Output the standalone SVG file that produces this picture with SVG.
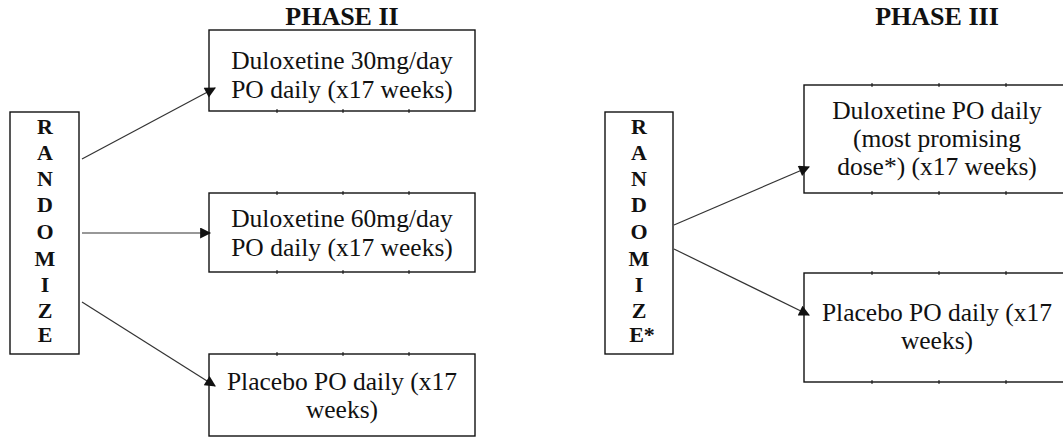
<svg xmlns="http://www.w3.org/2000/svg" width="1063" height="438" viewBox="0 0 1063 438">
<style>
.box{fill:#fff;stroke:#111;stroke-width:1.4}
.tick{stroke:#111;stroke-width:1}
.t{font-family:"Liberation Serif","Times New Roman",serif;font-size:25.5px;fill:#111;text-anchor:middle}
.h{font-family:"Liberation Serif","Times New Roman",serif;font-size:26px;font-weight:bold;fill:#111;text-anchor:middle}
.l{font-family:"Liberation Serif","Times New Roman",serif;font-size:22px;font-weight:bold;fill:#111;text-anchor:middle}
.c{stroke:#333;stroke-width:1.2;fill:none;marker-end:url(#ah)}
</style>
<defs>
<marker id="ah" viewBox="0 0 10 10" refX="9" refY="5" markerWidth="13" markerHeight="11" markerUnits="userSpaceOnUse" orient="auto">
<path d="M0,0 L10,5 L0,10 Z" fill="#111"/>
</marker>
</defs>
<text class="h" x="342" y="25">PHASE II</text>
<text class="h" x="937" y="25">PHASE III</text>
<g id="randomize1">
<rect class="box" x="10" y="112" width="69" height="242"/>
<text class="l" x="45" y="134">R</text>
<text class="l" x="45" y="160">A</text>
<text class="l" x="45" y="186">N</text>
<text class="l" x="45" y="212">D</text>
<text class="l" x="45" y="239">O</text>
<text class="l" x="45" y="266">M</text>
<text class="l" x="45" y="292">I</text>
<text class="l" x="45" y="318">Z</text>
<text class="l" x="45" y="342">E</text>
</g>
<g id="dul30">
<rect class="box" x="209" y="30" width="266" height="81"/>
<path class="tick" d="M277,109v4M343,109v4M409,109v4"/>
<text class="t" x="342" y="69">Duloxetine 30mg/day</text>
<text class="t" x="342" y="98">PO daily (x17 weeks)</text>
</g>
<g id="dul60">
<rect class="box" x="209" y="193" width="266" height="79"/>
<path class="tick" d="M277,191v4M343,191v4M409,191v4M277,270v4M343,270v4M409,270v4"/>
<text class="t" x="342" y="227">Duloxetine 60mg/day</text>
<text class="t" x="342" y="256">PO daily (x17 weeks)</text>
</g>
<g id="placebo2">
<rect class="box" x="209" y="354" width="266" height="82"/>
<path class="tick" d="M277,352v4M343,352v4M409,352v4"/>
<text class="t" x="342" y="390">Placebo PO daily (x17</text>
<text class="t" x="342" y="418">weeks)</text>
</g>
<g id="randomize2">
<rect class="box" x="605" y="112" width="68" height="242"/>
<text class="l" x="639" y="134">R</text>
<text class="l" x="639" y="160">A</text>
<text class="l" x="639" y="186">N</text>
<text class="l" x="639" y="212">D</text>
<text class="l" x="639" y="239">O</text>
<text class="l" x="639" y="266">M</text>
<text class="l" x="639" y="292">I</text>
<text class="l" x="639" y="318">Z</text>
<text class="l" x="642" y="342">E*</text>
</g>
<g id="dulbest">
<rect class="box" x="804" y="85" width="270" height="108"/>
<path class="tick" d="M872,83v4M939,83v4M1006,83v4M872,191v4M939,191v4M1006,191v4"/>
<text class="t" x="937" y="119">Duloxetine PO daily</text>
<text class="t" x="937" y="147">(most promising</text>
<text class="t" x="937" y="175">dose*) (x17 weeks)</text>
</g>
<g id="placebo3">
<rect class="box" x="804" y="273" width="270" height="109"/>
<path class="tick" d="M872,271v4M939,271v4M1006,271v4M872,380v4M939,380v4M1006,380v4"/>
<text class="t" x="937" y="321">Placebo PO daily (x17</text>
<text class="t" x="937" y="349">weeks)</text>
</g>
<g id="connectors">
<line class="c" x1="82" y1="159" x2="215" y2="88"/>
<line class="c" x1="82" y1="233" x2="210" y2="233"/>
<line class="c" x1="82" y1="302" x2="215" y2="386"/>
<line class="c" x1="674" y1="225" x2="809" y2="167"/>
<line class="c" x1="674" y1="249" x2="809" y2="315"/>
</g>
</svg>
